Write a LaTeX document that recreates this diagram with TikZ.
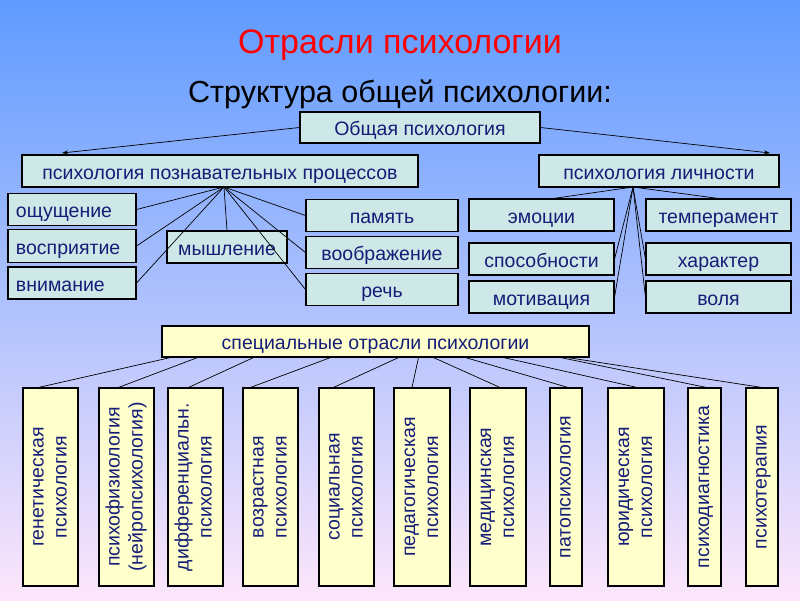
\documentclass[tikz,border=0pt]{standalone}
\usepackage{fontspec}
\setmainfont{Liberation Sans}
\usetikzlibrary{arrows.meta}
\definecolor{bgtop}{RGB}{95,155,255}
\definecolor{bgmid}{RGB}{170,190,245}
\definecolor{bgbot}{RGB}{253,230,251}
\definecolor{boxteal}{RGB}{205,232,230}
\definecolor{boxyel}{RGB}{255,255,204}
\definecolor{txtblue}{RGB}{20,30,120}
\tikzset{
  basebox/.style={draw=black, line width=1.1pt, text=txtblue, inner sep=0pt,
    font=\fontsize{19.5}{23}\selectfont},
  tbox/.style={basebox, fill=boxteal, text height=16pt, text depth=0pt},
  lbox/.style={tbox, text width=112pt, align=left, inner xsep=8pt},
  ybox/.style={basebox, fill=boxyel},
  vbox/.style={ybox, minimum height=198pt},
  link/.style={line width=0.7pt},
}
\newcommand{\vlab}[1]{\rotatebox{90}{\begin{tabular}{@{}c@{}}#1\end{tabular}}}

\begin{document}
\begin{tikzpicture}[x=1pt,y=-1pt]
\shade[top color=bgtop, middle color=bgmid, bottom color=bgbot] (0,0) rectangle (800,600);
\useasboundingbox (0,0) rectangle (800,600);

\node[text=red, font=\fontsize{34}{40}\selectfont] (title) at (400,45) {Отрасли психологии};
\node[font=\fontsize{30.5}{36}\selectfont] (sub) at (400,94) {Структура общей психологии:};

% general psychology
\node[tbox, minimum width=240pt, minimum height=31pt] (obsh) at (420,127.5) {Общая психология};
\node[tbox, minimum width=396pt, minimum height=32pt] (pozn) at (220,171) {психология познавательных процессов};
\node[tbox, minimum width=240pt, minimum height=32pt] (lich) at (659,171) {психология личности};
\coordinate (la) at (62,153);
\coordinate (ra) at (770,153);
\draw[link,-{Stealth[length=6pt,width=4pt]}] (obsh.west) -- (la);
\draw[link,-{Stealth[length=6pt,width=4pt]}] (obsh.east) -- (ra);

% cognitive processes
\node[lbox, minimum height=32pt] (osh) at (72,209.5) {ощущение};
\node[lbox, minimum height=33pt] (vospr) at (72,246) {восприятие};
\node[lbox, minimum height=32pt] (vnim) at (72,283) {внимание};
\node[tbox, minimum width=120pt, minimum height=32pt] (mysh) at (227,247) {мышление};
\foreach \n/\y/\t in {pam/215.5/память, voobr/252.5/воображение, rech/289.5/речь}
{
  \node[tbox, minimum width=152pt, minimum height=32pt] (\n) at (382,\y) {\t};
}
\coordinate (phub) at (224,187);
\foreach \n in {osh,vospr,vnim}
  \draw[link] (phub) -- (\n.east);
\draw[link] (phub) -- (mysh.north);
\foreach \n in {pam,voobr,rech}
  \draw[link] (phub) -- (\n.west);

% personality
\foreach \n/\y/\t in {emo/215/эмоции, spos/259/способности, motiv/297/мотивация}
{
  \node[tbox, minimum width=145pt, minimum height=32pt] (\n) at (541.5,\y) {\t};
}
\foreach \n/\y/\t in {temp/215/темперамент, har/259/характер, vol/297/воля}
{
  \node[tbox, minimum width=145pt, minimum height=32pt] (\n) at (718.5,\y) {\t};
}
\coordinate (lhub) at (633,187);
\draw[link] (lhub) -- ([xshift=12pt]emo.north);
\draw[link] (lhub) -- (temp.north);
\draw[link] (lhub) -- (spos.east);
\draw[link] (lhub) -- (motiv.east);
\draw[link] (lhub) -- (har.west);
\draw[link] (lhub) -- (vol.west);

% special branches
\node[ybox, text height=16pt, text depth=0pt, minimum width=427pt, minimum height=31pt] (spec) at (375.5,341.5) {специальные отрасли психологии};
\foreach \n/\x/\w/\t in {gen/50.5/55/{генетическая\\психология},
  fiz/126.5/55/{психофизиология\\(нейропсихология)},
  dif/195.5/55/{дифференциальн.\\психология},
  voz/270.5/55/{возрастная\\психология},
  soc/346.5/55/{социальная\\психология},
  ped/422/56/{педагогическая\\психология},
  med/498/56/{медицинская\\психология},
  pat/566/32/{патопсихология},
  yur/636/56/{юридическая\\психология},
  diag/704.5/33/{психодиагностика},
  ter/762/32/{психотерапия}}
{
  \node[vbox, minimum width=\w pt] (\n) at (\x,487) {\vlab{\t}};
}
\foreach \n/\a/\b in {gen/-205/-12, fiz/-178/-8, dif/-122/-7, voz/-45/-20, soc/23/-13,
  ped/43/-10, med/58/2, pat/90/2, yur/128/1, diag/185/2, ter/192/0}
  \draw[link] ([xshift=\a pt]spec.south) -- ([xshift=\b pt]\n.north);

\end{tikzpicture}
\end{document}
